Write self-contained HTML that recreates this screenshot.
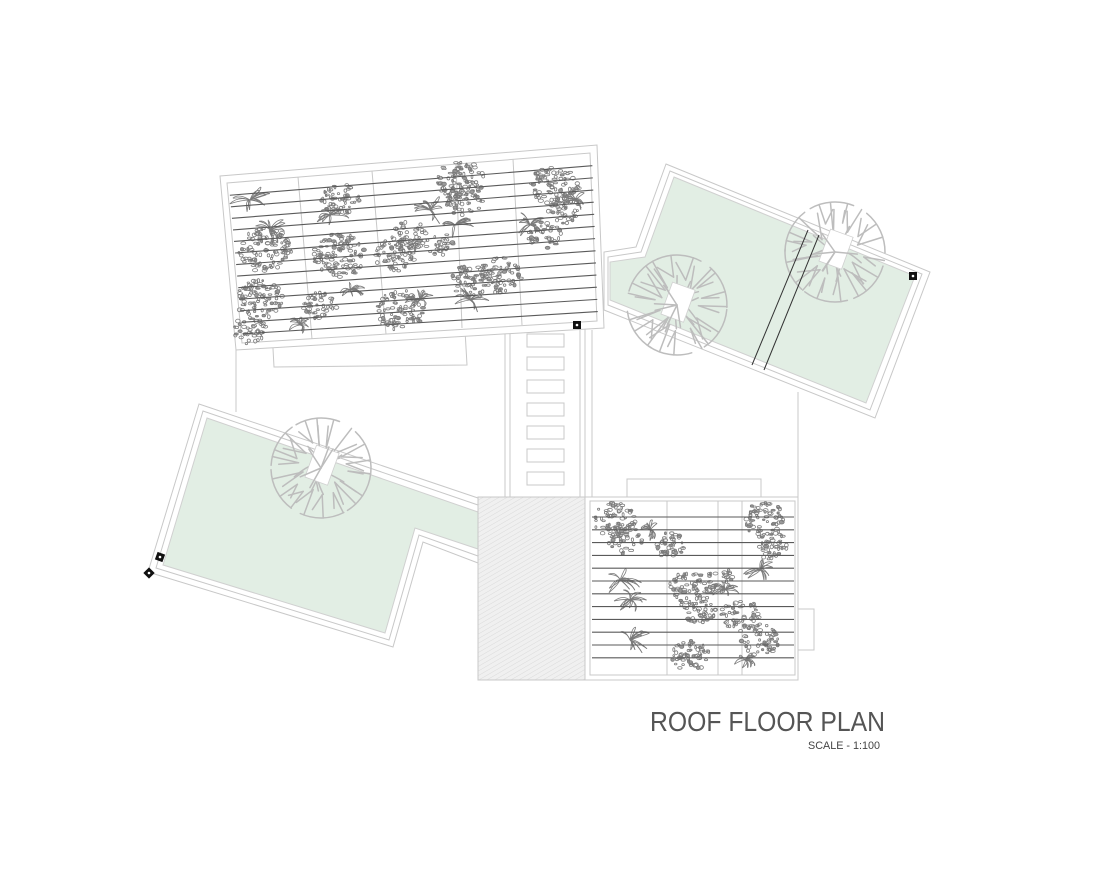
<!DOCTYPE html>
<html><head><meta charset="utf-8"><style>
html,body{margin:0;padding:0;background:#fff;}
svg{display:block;}
</style></head><body>
<svg id="s" width="1100" height="873" viewBox="0 0 1100 873" xmlns="http://www.w3.org/2000/svg">
<defs>
<pattern id="hatch" width="4" height="4" patternUnits="userSpaceOnUse" patternTransform="rotate(60)">
<rect width="4" height="4" fill="#f0f0f0"/><line x1="0" y1="0" x2="0" y2="4" stroke="#dadada" stroke-width="1"/>
</pattern>
</defs>
<g fill="none" stroke="#c8c8c8" stroke-width="1">
<line x1="236" y1="350" x2="236" y2="412"/>
<line x1="798" y1="392" x2="798" y2="497"/>
<polygon points="666,164 930,272 875,418 604,310 604,252 636,247" fill="#fff"/>
<polygon points="670,171 922,274 870,410 608,305 608,257 641,252" fill="none"/>
<polygon points="674,177 915,276 866,403 610,300 610,262 645,257" fill="#e2eee4" stroke="#d0d0d0"/>
<polygon points="199,404 478,498 478,563 423,542 393,647 148,572" fill="#fff"/>
<polygon points="203,411 478,505 478,556 419,535 389,640 156,568" fill="none"/>
<polygon points="207,418 478,512 478,549 415,528 385,633 163,565" fill="#e2eee4" stroke="#d0d0d0"/>
<rect x="505" y="326" width="80" height="171" fill="#fff"/>
<line x1="510" y1="328" x2="510" y2="497"/>
<line x1="580" y1="328" x2="580" y2="497"/>
<line x1="592" y1="330" x2="592" y2="497"/>
<rect x="527" y="334" width="37" height="13"/>
<rect x="527" y="357" width="37" height="13"/>
<rect x="527" y="380" width="37" height="13"/>
<rect x="527" y="403" width="37" height="13"/>
<rect x="527" y="426" width="37" height="13"/>
<rect x="527" y="449" width="37" height="13"/>
<rect x="527" y="472" width="37" height="13"/>
<rect x="627" y="479" width="134" height="18"/>
<rect x="798" y="609" width="16" height="41"/>
<rect x="478" y="497" width="109" height="183" fill="url(#hatch)"/>
<rect x="585" y="497" width="213" height="183" fill="#fff"/>
<rect x="590" y="501" width="205" height="174"/>
<line x1="667" y1="501" x2="667" y2="675"/>
<line x1="718" y1="501" x2="718" y2="675"/>
<line x1="742" y1="501" x2="742" y2="675"/>
<polygon points="272,330 465,330 467,365 274,367" fill="#fff"/>
<polygon points="220,176 597,145 604,328 236,350" fill="#fff"/>
<polygon points="227,183 590,153 597,321 242,343"/>
<line x1="298" y1="177" x2="312" y2="339"/>
<line x1="372" y1="171" x2="386" y2="334"/>
<line x1="513" y1="159" x2="522" y2="325"/>
<line x1="456" y1="164" x2="462" y2="328"/>
</g>
<g id="trees" fill="none" stroke="#bdbdbd" stroke-width="1.5" stroke-linecap="round"></g>
<g id="plants" fill="none" stroke="#7a7a7a" stroke-width="0.8"></g>
<g id="wires" stroke="#5a5a5a" stroke-width="1.1"></g>
<g stroke="#333" stroke-width="1">
<line x1="808" y1="230" x2="752" y2="365"/>
<line x1="819" y1="235" x2="764" y2="370"/>
</g>
<g fill="#111">
<rect x="573" y="321" width="8" height="8"/>
<rect x="909" y="272" width="8" height="8"/>
<rect x="156" y="553" width="8" height="8" transform="rotate(20 160 557)"/>
<rect x="145" y="569" width="8" height="8" transform="rotate(45 149 573)"/>
</g>
<g fill="#fff"><circle cx="577" cy="325" r="1.3"/><circle cx="913" cy="276" r="1.3"/><circle cx="160" cy="557" r="1.3"/><circle cx="149" cy="573" r="1.3"/></g>
<text x="650" y="731" font-family="Liberation Sans, sans-serif" font-size="28" fill="#555" textLength="235" lengthAdjust="spacingAndGlyphs">ROOF FLOOR PLAN</text>
<text x="808" y="749" font-family="Liberation Sans, sans-serif" font-size="11" fill="#444" textLength="72" lengthAdjust="spacingAndGlyphs">SCALE - 1:100</text>
</svg>
<script>
var NS="http://www.w3.org/2000/svg";
var seed=7;function r(){seed=(seed*16807)%2147483647;return (seed-1)/2147483646;}
function el(p,t,a){var e=document.createElementNS(NS,t);for(var k in a)e.setAttribute(k,a[k]);document.getElementById(p).appendChild(e);return e;}
function lerp(a,b,t){return [a[0]+(b[0]-a[0])*t,a[1]+(b[1]-a[1])*t];}
var TL=[229,186],BL=[243,340],TR=[592,156],BR=[598,318];
for(var i=0;i<13;i++){var t=0.06+i*0.075;var L=lerp(TL,BL,t),R=lerp(TR,BR,t);el("wires","line",{x1:L[0],y1:L[1],x2:R[0],y2:R[1]});}
for(var i=0;i<12;i++){var y=517+i*12.8;el("wires","line",{x1:592,y1:y,x2:794,y2:y});}
function cluster(cx,cy,rad,n){for(var i=0;i<n;i++){var a=r()*6.283,d=Math.sqrt(r())*rad;var x=cx+Math.cos(a)*d*1.2,y=cy+Math.sin(a)*d;el("plants","ellipse",{cx:x.toFixed(1),cy:y.toFixed(1),rx:(0.8+r()*1.8).toFixed(1),ry:(0.8+r()*1.2).toFixed(1),fill:r()<0.15?"#999":"none"});}}
function palm(cx,cy,s){for(var i=0;i<10;i++){var a=r()*6.283,l=s*(0.6+r()*0.5);var x2=cx+Math.cos(a)*l,y2=cy+Math.sin(a)*l*0.7;var mx=(cx+x2)/2+(r()-0.5)*8,my=(cy+y2)/2-6;el("plants","path",{d:"M"+cx+" "+cy+" Q"+mx.toFixed(1)+" "+my.toFixed(1)+" "+x2.toFixed(1)+" "+y2.toFixed(1)});el("plants","path",{d:"M"+cx+" "+cy+" Q"+(mx+3).toFixed(1)+" "+(my+4).toFixed(1)+" "+x2.toFixed(1)+" "+y2.toFixed(1)});}}
var C=[[265,250,22],[260,300,20],[250,330,14],[340,200,16],[340,255,22],[395,255,18],[400,310,20],[460,180,20],[465,200,16],[470,280,16],[500,275,18],[555,185,20],[565,210,14],[545,235,14],[320,305,14],[410,235,14],[440,245,12],
[615,520,18],[625,540,14],[670,545,14],[765,520,18],[770,545,14],[690,590,18],[700,610,14],[740,615,16],[760,640,16],[690,655,16],[720,580,12]];
C.forEach(function(c){cluster(c[0],c[1],c[2],Math.round(c[2]*c[2]*0.22));});
[[250,200,22],[270,230,20],[330,215,18],[430,210,20],[455,225,18],[530,225,18],[470,300,18],[300,325,12],[620,580,20],[630,640,20],[760,570,18],[725,590,14],[650,530,14],[420,300,16],[350,290,14],[575,200,14],[630,600,16],[745,660,12]].forEach(function(p){palm(p[0],p[1],p[2]);});
function tree(cx,cy,R){for(var j=0;j<6;j++){var a0=j/6*6.283+r()*0.3;el("trees","path",{d:"M"+(cx+Math.cos(a0)*R).toFixed(1)+" "+(cy+Math.sin(a0)*R).toFixed(1)+" A"+R+" "+R+" 0 0 1 "+(cx+Math.cos(a0+0.9)*R).toFixed(1)+" "+(cy+Math.sin(a0+0.9)*R).toFixed(1)});}
for(var i=0;i<18;i++){var a=i/18*6.283+r()*0.25;var d0=R*(0.3+r()*0.3);var x0=cx+Math.cos(a)*d0,y0=cy+Math.sin(a)*d0;el("trees","line",{x1:x0.toFixed(1),y1:y0.toFixed(1),x2:(cx+Math.cos(a)*R).toFixed(1),y2:(cy+Math.sin(a)*R).toFixed(1)});
var b=a+(r()-0.5)*0.8;el("trees","line",{x1:x0.toFixed(1),y1:y0.toFixed(1),x2:(cx+Math.cos(b)*R*0.85).toFixed(1),y2:(cy+Math.sin(b)*R*0.85).toFixed(1)});}
for(var i=0;i<10;i++){var a=r()*6.283;var px=cx+(r()-0.5)*10,py=cy+(r()-0.5)*10;el("trees","path",{d:"M"+px.toFixed(1)+" "+py.toFixed(1)+" q"+((r()-0.5)*14).toFixed(1)+" "+((r()-0.5)*14).toFixed(1)+" "+(Math.cos(a)*R*0.5).toFixed(1)+" "+(Math.sin(a)*R*0.5).toFixed(1)});}
el("trees","rect",{x:cx-12,y:cy-20,width:24,height:34,fill:"#fff",stroke:"#d0d0d0","stroke-width":0.8,transform:"rotate(20 "+cx+" "+cy+")"});
for(var i=0;i<5;i++){var a=r()*6.283;el("trees","line",{x1:cx,y1:cy,x2:(cx+Math.cos(a)*R*0.45).toFixed(1),y2:(cy+Math.sin(a)*R*0.45).toFixed(1)});}}
tree(677,305,50);tree(835,252,50);tree(321,468,50);
</script>
</body></html>
